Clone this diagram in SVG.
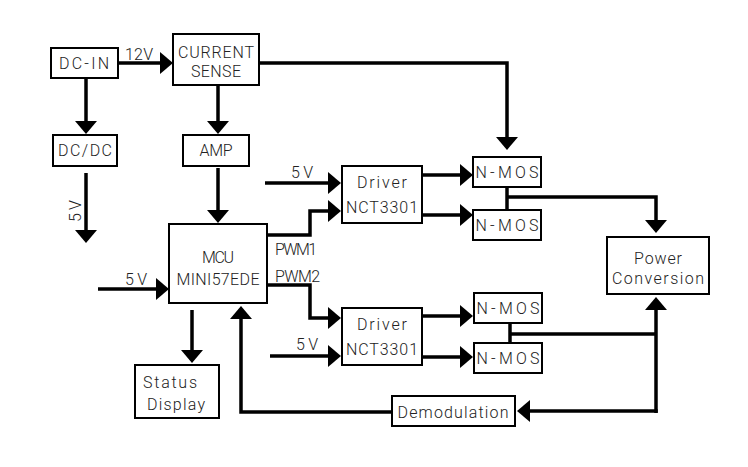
<svg xmlns="http://www.w3.org/2000/svg" width="748" height="467" viewBox="0 0 748 467">
<defs>
<style>
.box{fill:#fff;stroke:#000;stroke-width:2}
.ln{fill:none;stroke:#000;stroke-width:3.5;stroke-linejoin:miter}
.ar{fill:none;stroke:#000;stroke-width:3.5;marker-end:url(#ah)}
text{font-family:Roboto,"Liberation Sans",Arial,sans-serif;font-weight:300;font-size:16px;fill:#222;text-anchor:middle}
.l{text-anchor:start}
</style>
<marker id="ah" markerUnits="userSpaceOnUse" markerWidth="13" markerHeight="22" refX="0" refY="11" orient="auto" viewBox="0 0 13 22">
<path d="M0,0 L13,11 L0,22 z" fill="#000"/>
</marker>
</defs>
<rect width="748" height="467" fill="#fff"/>
<g id="connectors">
<path class="ar" d="M119,63 H160"/>
<path class="ar" d="M86,78 V121"/>
<path class="ar" d="M86,173 V230"/>
<path class="ar" d="M218,85 V121"/>
<path class="ar" d="M259,63 H507 V137"/>
<path class="ar" d="M218,168 V210"/>
<path class="ar" d="M98,289 H156"/>
<path class="ar" d="M192,310 V350"/>
<path class="ar" d="M267,235 H310 V211 H328"/>
<path class="ar" d="M265,183 H328"/>
<path class="ar" d="M422,175 H460"/>
<path class="ar" d="M422,215 H460"/>
<path class="ln" d="M507,187 V210"/>
<path class="ar" d="M507,197 H656 V220"/>
<path class="ar" d="M267,285 H310 V318 H328"/>
<path class="ar" d="M270,356 H328"/>
<path class="ar" d="M422,316 H460"/>
<path class="ar" d="M422,357 H460"/>
<path class="ln" d="M510,323 V343"/>
<path class="ln" d="M510,334 H656"/>
<path class="ar" d="M656,413 V310"/>
<path class="ar" d="M657.75,411 H530"/>
<path class="ar" d="M392,412 H241 V319"/>
<text x="139" y="60" textLength="28">12V</text>
<text x="81" y="211" transform="rotate(-90 81 211)" textLength="22">5V</text>
<text x="302" y="178" textLength="22">5V</text>
<text x="136" y="285" textLength="22">5V</text>
<text x="307" y="350" textLength="22">5V</text>
<text class="l" x="275" y="255" textLength="42">PWM1</text>
<text class="l" x="275" y="282" textLength="45">PWM2</text>
</g>
<g id="dcin"><rect class="box" x="51" y="48" width="67" height="30"/><text x="84" y="69" textLength="50">DC-IN</text></g>
<g id="dcdc"><rect class="box" x="53" y="135" width="64" height="31"/><text x="85" y="156" textLength="54">DC/DC</text></g>
<g id="current-sense"><rect class="box" x="173" y="34" width="86" height="51"/><text x="216" y="58" textLength="76">CURRENT</text><text x="216" y="77" textLength="50">SENSE</text></g>
<g id="amp"><rect class="box" x="183" y="135" width="66" height="31"/><text x="216" y="156" textLength="33">AMP</text></g>
<g id="mcu"><rect class="box" x="169" y="224" width="98" height="79"/><text x="218" y="263" textLength="32">MCU</text><text x="218" y="285" textLength="83">MINI57EDE</text></g>
<g id="status"><rect class="box" x="135" y="365" width="84" height="53"/><text x="170" y="388" textLength="54">Status</text><text x="176" y="410" textLength="58">Display</text></g>
<g id="driver1"><rect class="box" x="342" y="166" width="80" height="57"/><text x="382" y="188" textLength="50">Driver</text><text x="382" y="213" textLength="72">NCT3301</text></g>
<g id="driver2"><rect class="box" x="342" y="308" width="80" height="57"/><text x="382" y="330" textLength="50">Driver</text><text x="382" y="355" textLength="72">NCT3301</text></g>
<g id="nmos1"><rect class="box" x="473" y="157" width="68" height="30"/><text x="507" y="178" textLength="63">N-MOS</text></g>
<g id="nmos2"><rect class="box" x="473" y="210" width="68" height="30"/><text x="507" y="231" textLength="63">N-MOS</text></g>
<g id="nmos3"><rect class="box" x="474" y="293" width="68" height="30"/><text x="508" y="314" textLength="63">N-MOS</text></g>
<g id="nmos4"><rect class="box" x="474" y="343" width="68" height="30"/><text x="508" y="364" textLength="63">N-MOS</text></g>
<g id="power"><rect class="box" x="607" y="237" width="102" height="57"/><text x="658" y="264" textLength="48">Power</text><text x="658" y="284" textLength="92">Conversion</text></g>
<g id="demod"><rect class="box" x="392" y="396" width="123" height="30"/><text x="453" y="418" textLength="111">Demodulation</text></g>
</svg>
